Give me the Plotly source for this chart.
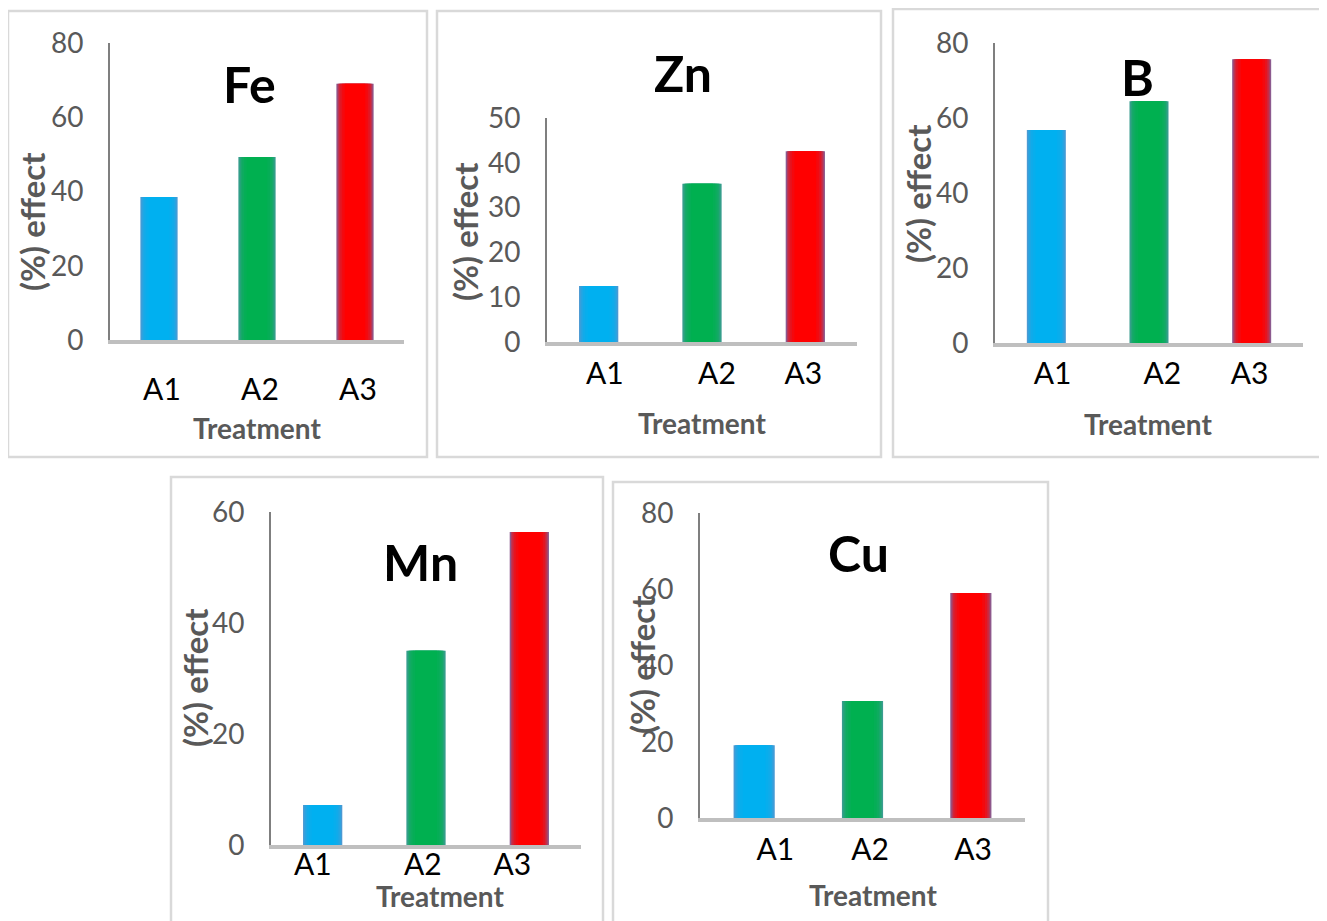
import plotly.graph_objects as go

# ---------------- data ----------------
categories = ["A1", "A2", "A3"]
fe_values = [38.5, 49.3, 69.0]
zn_values = [12.5, 35.3, 42.6]
b_values = [56.8, 64.5, 75.7]
mn_values = [7.2, 35.0, 56.4]
cu_values = [19.1, 30.7, 59.0]
panel_titles = ["Fe", "Zn", "B", "Mn", "Cu"]
y_max = [80, 50, 80, 60, 80]
y_step = [20, 10, 20, 20, 20]
x_title = "Treatment"
y_title = "(%) effect"

series = [fe_values, zn_values, b_values, mn_values, cu_values]

# ---------------- layout (page pixels) ----------------
OFF = 8                      # default body margin of the html page
W, H = 1327 - OFF, 921 - OFF
# axis box: left, right, top(ymax), baseline
axes_px = [
    (110, 404, 43, 340),
    (547, 857, 118, 342),
    (995, 1303, 43, 343),
    (271, 581, 512, 845),
    (700, 1025, 513, 818),
]
borders_px = [
    (8, 427, 11, 457),
    (437, 881, 11, 457),
    (893, 1325, 9, 457),
    (171, 603, 477, 940),
    (613, 1048, 482, 940),
]
title_px = [(249, 84), (683, 73), (1137, 77), (420, 562), (858, 553)]
treat_px = [(257, 428), (702, 423), (1148, 424), (440, 896), (873, 895)]
effect_px = [(32, 222), (465, 232), (918, 194), (195, 678), (642, 665)]
xtick_standoff = [20, 2, 1, 0, 2]
# Mn tick labels sit closer to the baseline: drawn on an overlaid label axis
MN_LABEL_AXIS_Y = 844
# horizontal nudge of each category label (in category units)
label_nudge = [
    [0.03, 0.03, 0.03],
    [0.06, 0.145, -0.02],
    [0.06, 0.13, -0.02],
    [-0.095, -0.03, -0.165],
    [0.195, 0.07, 0.02],
]

FONT = "Lato, Liberation Sans, sans-serif"
GRAY = "#595959"

edge_cols = ["#4a9ad4", "#3a9d90", "#8c5a8e"]
center_cols = ["#00b0f0", "#00b050", "#ff0000"]


def mix(c1, c2, t):
    a = [int(c1[i:i + 2], 16) for i in (1, 3, 5)]
    b = [int(c2[i:i + 2], 16) for i in (1, 3, 5)]
    return "#" + "".join(f"{round(a[k] + (b[k] - a[k]) * t):02x}" for k in range(3))


def px_x(x):
    return (x - OFF) / W


def px_y(y):
    return 1 - (y - OFF) / H


fig = go.Figure()
layer_widths = [0.38, 0.355, 0.33, 0.30, 0.26, 0.21]
layer_t = [0.0, 0.35, 0.6, 0.78, 0.91, 1.0]
xtick_font = dict(family=FONT, size=30, color="#000000")

for i, vals in enumerate(series):
    n = "" if i == 0 else str(i + 1)
    for j, (w, t) in enumerate(zip(layer_widths, layer_t)):
        xa = "x" + n
        if i == 3 and j == len(layer_widths) - 1:
            xa = "x6"            # innermost Mn layer on the overlaid label axis
        fig.add_trace(go.Bar(
            x=categories, y=vals, width=w,
            marker=dict(color=[mix(e, c, t) for e, c in zip(edge_cols, center_cols)],
                        line=dict(width=0)),
            xaxis=xa, yaxis="y" + n, showlegend=False, hoverinfo="skip",
        ))
    l, r, top, base = axes_px[i]
    fig.layout["xaxis" + n] = dict(
        domain=[px_x(l), px_x(r)], anchor="y" + n, type="category",
        categoryorder="array", categoryarray=categories, range=[-0.5, 2.5],
        tickmode="array",
        tickvals=[k + d for k, d in enumerate(label_nudge[i])],
        ticktext=categories, showticklabels=(i != 3),
        showline=True, linecolor="#bfbfbf", linewidth=4,
        showgrid=False, zeroline=False, ticks="", automargin=False,
        tickfont=xtick_font,
        ticklabelstandoff=xtick_standoff[i], fixedrange=True,
    )
    fig.layout["yaxis" + n] = dict(
        domain=[px_y(base), px_y(top)], anchor="x" + n,
        range=[0, y_max[i]], dtick=y_step[i], tick0=0,
        showline=True, linecolor="#7f7f7f", linewidth=1.6,
        showgrid=False, zeroline=False, ticks="", automargin=False,
        tickfont=dict(family=FONT, size=28, color=GRAY),
        ticklabelstandoff=19, fixedrange=True,
    )

fig.layout["xaxis6"] = dict(
    overlaying="x4", anchor="free", position=px_y(MN_LABEL_AXIS_Y),
    type="category", categoryorder="array", categoryarray=categories,
    range=[-0.5, 2.5], tickmode="array",
    tickvals=[k + d for k, d in enumerate(label_nudge[3])], ticktext=categories,
    showline=False, showgrid=False, zeroline=False, ticks="", automargin=False,
    tickfont=xtick_font, fixedrange=True,
)

shapes = []
for (x0, x1, y0, y1) in borders_px:
    shapes.append(dict(type="rect", xref="paper", yref="paper",
                       x0=px_x(x0), x1=px_x(x1), y0=px_y(y1), y1=px_y(y0),
                       line=dict(color="#d9d9d9", width=2.5), layer="below"))

annotations = []
for i in range(5):
    tx, ty = title_px[i]
    annotations.append(dict(text="<b>" + panel_titles[i] + "</b>", x=px_x(tx), y=px_y(ty),
                            xref="paper", yref="paper", showarrow=False,
                            xanchor="center", yanchor="middle",
                            font=dict(family=FONT, size=50, color="#000000")))
    qx, qy = treat_px[i]
    annotations.append(dict(text="<b>" + x_title + "</b>", x=px_x(qx), y=px_y(qy),
                            xref="paper", yref="paper", showarrow=False,
                            xanchor="center", yanchor="middle",
                            font=dict(family=FONT, size=28, color=GRAY)))
    ex, ey = effect_px[i]
    annotations.append(dict(text="<b>" + y_title + "</b>", x=px_x(ex), y=px_y(ey),
                            xref="paper", yref="paper", showarrow=False, textangle=-90,
                            xanchor="center", yanchor="middle",
                            font=dict(family=FONT, size=33, color=GRAY)))

fig.update_layout(
    width=W, height=H, margin=dict(l=0, r=0, t=0, b=0, autoexpand=False),
    paper_bgcolor="white", plot_bgcolor="white",
    barmode="overlay", shapes=shapes, annotations=annotations,
)

fig.write_html("out.html")
